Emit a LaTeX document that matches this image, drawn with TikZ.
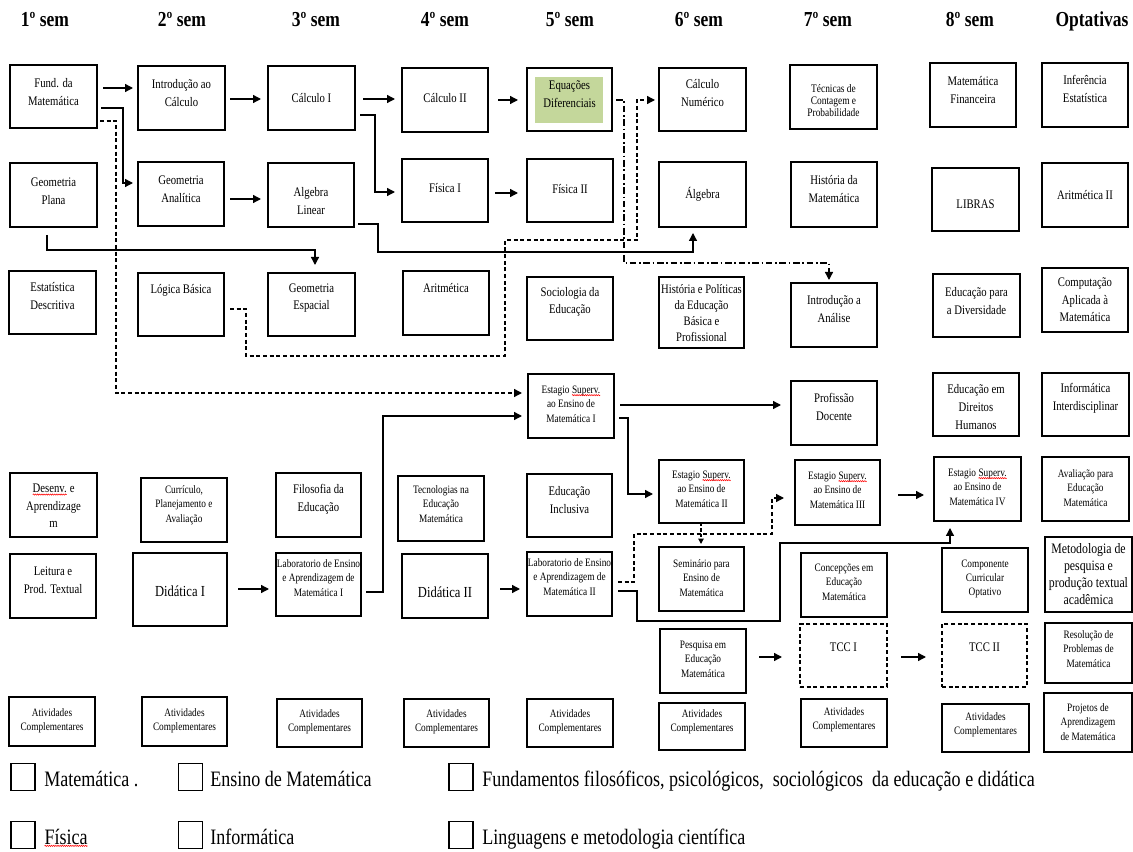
\documentclass[tikz,border=0pt]{standalone}
\usepackage{fontspec}
\setmainfont{Liberation Serif}[FakeStretch=0.82]
\usetikzlibrary{arrows.meta,decorations.pathmorphing}
\definecolor{eqgreen}{RGB}{196,215,155}
\newcommand\fN{\fontsize{9.8}{13.2}\selectfont}
\newcommand\fS{\fontsize{8.5}{10.8}\selectfont}
\newcommand\fT{\fontsize{8.6}{9}\selectfont}
\newcommand\fHP{\fontsize{9.7}{12}\selectfont}
\newcommand\fM{\fontsize{10.8}{12.8}\selectfont}
\newcommand\fL{\fontsize{11.5}{13}\selectfont}
\newcommand\fH{\fontsize{16}{18}\selectfont\bfseries}
\newcommand\fG{\fontsize{16.5}{18}\selectfont}
\newcommand\sqg[1]{\tikz[baseline=(sq.base)]{\node[inner sep=0pt,outer sep=0pt] (sq) {#1};\draw[red,line width=0.4pt,decorate,decoration={snake,amplitude=0.45pt,segment length=1.6pt}] ([yshift=-1.4pt]sq.base west) -- ([yshift=-1.4pt]sq.base east);}}
\newcommand\mybox[9]{%
\node[#6, minimum width={(#4-(#2))*0.75pt}, minimum height={(#5-(#3))*0.75pt}] (#1) at ({(#2+#4)/2},{(#3+#5)/2}) {};
\node[lbl,font=#8] (#1t) at ({(#2+#4)/2},#7) {#9};}
\begin{document}
\begin{tikzpicture}[x=0.75pt,y=-0.75pt,
  box/.style={draw,line width=1.1pt,inner sep=0pt,outer sep=0pt},
  dbox/.style={box,dash pattern=on 3pt off 2pt},
  lbl/.style={align=center,inner sep=0pt},
  lsq/.style={draw,line width=1pt,minimum width=18pt,minimum height=20pt,inner sep=0pt},
  arr/.style={line width=1pt,-{Triangle[length=6pt,width=6pt]}},
  darr/.style={arr,dash pattern=on 3pt off 2pt},
  ddarr/.style={arr,dash pattern=on 5pt off 2pt on 1.2pt off 2pt}]
\useasboundingbox (0,0) rectangle (1133,852);
% headers
\node[font=\fH,anchor=base] (h1) at (45,27) {1º sem};
\node[font=\fH,anchor=base] (h2) at (182,27) {2º sem};
\node[font=\fH,anchor=base] (h3) at (316,27) {3º sem};
\node[font=\fH,anchor=base] (h4) at (445,27) {4º sem};
\node[font=\fH,anchor=base] (h5) at (570,27) {5º sem};
\node[font=\fH,anchor=base] (h6) at (699,27) {6º sem};
\node[font=\fH,anchor=base] (h7) at (828,27) {7º sem};
\node[font=\fH,anchor=base] (h8) at (970,27) {8º sem};
\node[font=\fH,anchor=base] (h9) at (1092,27) {Optativas};
% row 1
\fill[eqgreen] (535,77) rectangle (603,123);
\mybox{fund}{10}{65}{97}{128}{box}{92}{\fN}{Fund. da\\Matemática}
\mybox{intro}{138}{66}{225}{130}{box}{93}{\fN}{Introdução ao\\Cálculo}
\mybox{calcI}{268}{66}{355}{130}{box}{98}{\fN}{Cálculo I}
\mybox{calcII}{402}{68}{488}{132}{box}{98}{\fN}{Cálculo II}
\mybox{eqdif}{527}{68}{612}{131}{box}{94}{\fN}{Equações\\Diferenciais}
\mybox{cnum}{659}{68}{746}{131}{box}{93}{\fN}{Cálculo\\Numérico}
\mybox{tec}{790}{65}{877}{129}{box}{101}{\fT}{Técnicas de\\Contagem e\\Probabilidade}
\mybox{mfin}{930}{63}{1016}{127}{box}{90}{\fN}{Matemática\\Financeira}
\mybox{inf}{1042}{63}{1128}{127}{box}{89}{\fN}{Inferência\\Estatística}
% row 2
\mybox{gpl}{10}{163}{97}{227}{box}{191}{\fN}{Geometria\\Plana}
\mybox{gan}{138}{162}{224}{226}{box}{189}{\fN}{Geometria\\Analítica}
\mybox{alin}{268}{163}{354}{227}{box}{201}{\fN}{Algebra\\Linear}
\mybox{fisI}{402}{159}{488}{222}{box}{188}{\fN}{Física I}
\mybox{fisII}{527}{159}{613}{222}{box}{189}{\fN}{Física II}
\mybox{alg}{659}{162}{746}{227}{box}{194}{\fN}{Álgebra}
\mybox{hmat}{791}{162}{877}{227}{box}{189}{\fN}{História da\\Matemática}
\mybox{libras}{932}{168}{1019}{231}{box}{204}{\fN}{LIBRAS}
\mybox{aritII}{1042}{163}{1128}{227}{box}{195}{\fN}{Aritmética II}
% row 3
\mybox{estd}{9}{271}{96}{334}{box}{296}{\fN}{Estatística\\Descritiva}
\mybox{logb}{138}{273}{224}{336}{box}{290}{\fN}{Lógica Básica}
\mybox{gesp}{268}{273}{355}{336}{box}{298}{\fN}{Geometria\\Espacial}
\mybox{arit}{403}{271}{489}{335}{box}{288}{\fN}{Aritmética}
\mybox{soc}{527}{277}{613}{340}{box}{302}{\fN}{Sociologia da\\Educação}
\mybox{hpol}{659}{277}{744}{348}{box}{313}{\fHP}{História e Políticas\\da Educação\\Básica e\\Profissional}
\mybox{ian}{791}{283}{877}{347}{box}{309}{\fN}{Introdução a\\Análise}
\mybox{ediv}{933}{274}{1020}{337}{box}{301}{\fN}{Educação para\\a Diversidade}
\mybox{comp}{1042}{268}{1128}{332}{box}{300}{\fN}{Computação\\Aplicada à\\Matemática}
% row 4
\mybox{estI}{528}{374}{614}{438}{box}{404}{\fS}{Estagio \sqg{Superv.}\\ao Ensino de\\Matemática I}
\mybox{prof}{791}{381}{877}{445}{box}{407}{\fN}{Profissão\\Docente}
\mybox{edh}{933}{373}{1019}{436}{box}{407}{\fN}{Educação em\\Direitos\\Humanos}
\mybox{infi}{1042}{373}{1129}{436}{box}{398}{\fN}{Informática\\Interdisciplinar}
% row 5
\mybox{desenv}{10}{473}{97}{537}{box}{506}{\fN}{\sqg{Desenv.} e\\Aprendizage\\m}
\mybox{curr}{141}{478}{227}{542}{box}{505}{\fS}{Currículo,\\Planejamento e\\Avaliação}
\mybox{filo}{276}{473}{361}{537}{box}{499}{\fN}{Filosofia da\\Educação}
\mybox{tecn}{398}{476}{484}{541}{box}{504}{\fS}{Tecnologias na\\Educação\\Matemática}
\mybox{eincl}{527}{474}{612}{537}{box}{500}{\fN}{Educação\\Inclusiva}
\mybox{estII}{659}{460}{744}{523}{box}{489}{\fS}{Estagio \sqg{Superv.}\\ao Ensino de\\Matemática II}
\mybox{estIII}{795}{460}{880}{525}{box}{490}{\fS}{Estagio \sqg{Superv.}\\ao Ensino de\\Matemática III}
\mybox{estIV}{934}{457}{1021}{521}{box}{487}{\fS}{Estagio \sqg{Superv.}\\ao Ensino de\\Matemática IV}
\mybox{aval}{1042}{457}{1129}{521}{box}{488}{\fS}{Avaliação para\\Educação\\Matemática}
% row 6
\mybox{leit}{10}{554}{96}{618}{box}{580}{\fN}{Leitura e\\Prod. Textual}
\mybox{didI}{133}{553}{227}{626}{box}{591}{\fL}{Didática I}
\mybox{labI}{276}{553}{361}{616}{box}{578}{\fS}{Laboratorio de Ensino\\e Aprendizagem de\\Matemática I}
\mybox{didII}{402}{554}{488}{618}{box}{592}{\fL}{Didática II}
\mybox{labII}{527}{552}{612}{616}{box}{577}{\fS}{Laboratorio de Ensino\\e Aprendizagem de\\Matemática II}
\mybox{sem}{659}{547}{744}{611}{box}{578}{\fS}{Seminário para\\Ensino de\\Matemática}
\mybox{conc}{801}{553}{887}{617}{box}{582}{\fS}{Concepções em\\Educação\\Matemática}
\mybox{ccop}{942}{548}{1028}{612}{box}{579}{\fS}{Componente\\Curricular\\Optativo}
\mybox{metp}{1045}{537}{1132}{612}{box}{574}{\fM}{Metodologia de\\pesquisa e\\produção textual\\acadêmica}
% row 7
\mybox{pesq}{660}{629}{746}{693}{box}{659}{\fS}{Pesquisa em\\Educação\\Matemática}
\mybox{tccI}{800}{624}{887}{687}{dbox}{647}{\fN}{TCC I}
\mybox{tccII}{942}{624}{1027}{687}{dbox}{647}{\fN}{TCC II}
\mybox{resol}{1045}{623}{1132}{683}{box}{649}{\fS}{Resolução de\\Problemas de\\Matemática}
% row 8
\mybox{at1}{9}{697}{95}{746}{box}{721}{\fS}{Atividades\\Complementares}
\mybox{at2}{142}{697}{227}{746}{box}{721}{\fS}{Atividades\\Complementares}
\mybox{at3}{277}{699}{362}{747}{box}{722}{\fS}{Atividades\\Complementares}
\mybox{at4}{404}{699}{489}{747}{box}{722}{\fS}{Atividades\\Complementares}
\mybox{at5}{527}{699}{613}{747}{box}{722}{\fS}{Atividades\\Complementares}
\mybox{at6}{659}{703}{745}{750}{box}{722}{\fS}{Atividades\\Complementares}
\mybox{at7}{801}{699}{887}{747}{box}{720}{\fS}{Atividades\\Complementares}
\mybox{at8}{942}{704}{1029}{752}{box}{725}{\fS}{Atividades\\Complementares}
\mybox{proj}{1044}{693}{1132}{752}{box}{722}{\fS}{Projetos de\\Aprendizagem\\de Matemática}
% connectors
\draw[arr,shorten <=4.5pt,shorten >=3.75pt] (fund.east |- 0,88) -- (intro.west |- 0,88);
\draw[arr,shorten <=3.75pt,shorten >=5.25pt] (intro.east |- 0,99) -- (calcI.west |- 0,99);
\draw[arr,shorten <=3pt,shorten >=3.75pt] (fund.east |- 0,108) -- (123,108) -- (123,183) -- (gan.west |- 0,183);
\draw[arr,shorten <=4.5pt,shorten >=5.25pt] (gan.east |- 0,199) -- (alin.west |- 0,199);
\draw[arr,shorten <=6pt,shorten >=5.25pt] (calcI.east |- 0,99) -- (calcII.west |- 0,99);
\draw[arr,shorten <=3.75pt,shorten >=5.25pt] (calcI.east |- 0,115) -- (375,115) -- (375,192) -- (fisI.west |- 0,192);
\draw[arr,shorten <=7.5pt,shorten >=6.75pt] (calcII.east |- 0,100) -- (eqdif.west |- 0,100);
\draw[arr,shorten <=5.25pt,shorten >=6.75pt] (fisI.east |- 0,193) -- (fisII.west |- 0,193);
\draw[arr,shorten <=6pt,shorten >=6pt] (gpl.south -| 47,0) -- (47,250) -- (315,250) -- (gesp.north -| 315,0);
\draw[arr,shorten <=3pt,shorten >=4.5pt] (alin.east |- 0,224) -- (378,224) -- (378,252) -- (693,252) -- (alg.south -| 693,0);
\draw[ddarr,shorten <=3pt,shorten >=2.25pt] (eqdif.east |- 0,100) -- (624,100) -- (624,263) -- (829,263) -- (ian.north -| 829,0);
\draw[darr,shorten <=4.5pt,shorten >=3pt] (logb.east |- 0,309) -- (246,309) -- (246,356) -- (505,356) -- (505,240) -- (637,240) -- (637,100) -- (cnum.west |- 0,100);
\draw[darr,shorten <=2.25pt,shorten >=4.5pt] (fund.east |- 0,121) -- (116,121) -- (116,393) -- (estI.west |- 0,393);
\draw[arr,shorten <=3.75pt,shorten >=4.5pt] (labI.east |- 0,592) -- (383,592) -- (383,416) -- (estI.west |- 0,416);
\draw[arr,shorten <=4.5pt,shorten >=7.5pt] (estI.east |- 0,405) -- (prof.west |- 0,405);
\draw[arr,shorten <=3.75pt,shorten >=4.5pt] (estI.east |- 0,418) -- (628,418) -- (628,494) -- (estII.west |- 0,494);
\draw[line width=0.9pt,dash pattern=on 2.5pt off 1.5pt,-{Triangle[length=4pt,width=4pt]},shorten >=2.25pt] (estII.south -| 701,0) -- (sem.north -| 701,0);
\draw[darr,shorten <=4.5pt,shorten >=8.25pt] (labII.east |- 0,582) -- (634,582) -- (634,534) -- (772,534) -- (772,498) -- (estIII.west |- 0,498);
\draw[arr,shorten <=4.5pt,shorten >=5.25pt] (labII.east |- 0,591) -- (637,591) -- (637,621) -- (780,621) -- (780,543) -- (950,543) -- (estIV.south -| 950,0);
\draw[arr,shorten <=13.5pt,shorten >=7.5pt] (estIII.east |- 0,495) -- (estIV.west |- 0,495);
\draw[arr,shorten <=8.25pt,shorten >=5.25pt] (didI.east |- 0,589) -- (labI.west |- 0,589);
\draw[arr,shorten <=9pt,shorten >=5.25pt] (didII.east |- 0,589) -- (labII.west |- 0,589);
\draw[arr,shorten <=9.75pt,shorten >=13.5pt] (pesq.east |- 0,657) -- (tccI.west |- 0,657);
\draw[arr,shorten <=10.5pt,shorten >=12pt] (tccI.east |- 0,657) -- (tccII.west |- 0,657);
% legend
\node[lsq] (lg1) at (23,777) {};
\node[lsq] (lg2) at (190.5,777) {};
\node[lsq] (lg3) at (461,777) {};
\node[lsq] (lg4) at (23,835) {};
\node[lsq] (lg5) at (190.5,835) {};
\node[lsq] (lg6) at (461,835) {};
\node[font=\fG,anchor=base west,inner sep=0pt] (lt1) at (44,786) {Matemática .};
\node[font=\fG,anchor=base west,inner sep=0pt] (lt2) at (210,786) {Ensino de Matemática};
\node[font=\fG,anchor=base west,inner sep=0pt] (lt3) at (482,786) {Fundamentos filosóficos, psicológicos, \ sociológicos \ da educação e didática};
\node[font=\fG,anchor=base west,inner sep=0pt] (lt4) at (44,844) {\sqg{Física}};
\node[font=\fG,anchor=base west,inner sep=0pt] (lt5) at (210,844) {Informática};
\node[font=\fG,anchor=base west,inner sep=0pt] (lt6) at (482,844) {Linguagens e metodologia científica};
\end{tikzpicture}
\end{document}
